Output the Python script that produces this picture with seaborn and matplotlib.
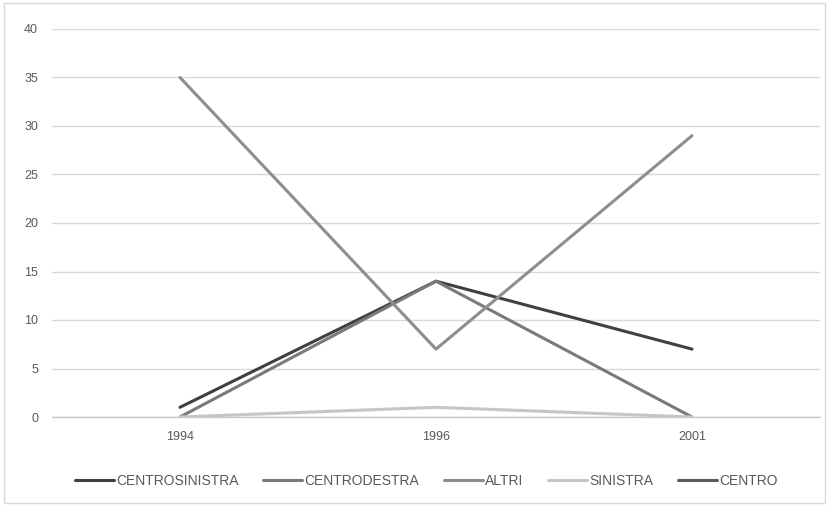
import numpy as np
import matplotlib
matplotlib.use("Agg")
import matplotlib.pyplot as plt
import seaborn as sns
from matplotlib.patches import Rectangle

# Election years on the category axis
years = ["1994", "1996", "2001"]

# Seats per coalition
centrosinistra = [1, 14, 7]
centrodestra = [0, 14, 0]
altri = [35, 7, 29]
sinistra = [0, 1, 0]
centro = [np.nan, np.nan, np.nan]

series_names = ["CENTROSINISTRA", "CENTRODESTRA", "ALTRI", "SINISTRA", "CENTRO"]
series_values = [centrosinistra, centrodestra, altri, sinistra, centro]
series_colors = ["#404040", "#7a7a7a", "#8e8e8e", "#c6c6c6", "#5a5a5a"]

y_ticks = [0, 5, 10, 15, 20, 25, 30, 35, 40]

sns.set_style("white")
plt.rcParams["font.family"] = ["Liberation Sans Narrow", "Liberation Sans", "DejaVu Sans"]

fig = plt.figure(figsize=(8.28, 5.05), dpi=100)
ax = fig.add_axes([52 / 828, 1 - 417 / 505, (820 - 52) / 828, (417 - 29) / 505])

for name, vals, col in zip(series_names, series_values, series_colors):
    if np.all(np.isnan(vals)):
        ax.plot([], [], color=col, lw=2.2, label=name)
        continue
    sns.lineplot(x=years, y=vals, ax=ax, color=col, lw=2.2, label=name,
                 sort=False, solid_capstyle="round")

ax.set_xlim(-0.5, 2.5)
ax.set_ylim(0, 40)
ax.set_yticks(y_ticks)
ax.set_yticklabels([str(t) for t in y_ticks])
ax.yaxis.grid(True, color="#d9d9d9", lw=1)
ax.set_axisbelow(True)
for side in ["left", "right", "top"]:
    ax.spines[side].set_visible(False)
ax.spines["bottom"].set_color("#c8c8c8")
ax.spines["bottom"].set_linewidth(1)
ax.tick_params(axis="both", length=0, labelsize=9, colors="#595959", pad=10)
ax.set_xlabel("")
ax.set_ylabel("")

ax.legend(loc="center", bbox_to_anchor=(0.515, 1 - 481 / 505), bbox_transform=fig.transFigure,
          ncol=5, frameon=False, fontsize=10, labelcolor="#595959",
          handlelength=2.8, handletextpad=0.15, columnspacing=1.8)

# Outer chart frame
fig.patches.append(Rectangle((4 / 828, 2 / 505), 821 / 828, 500 / 505, transform=fig.transFigure,
                             fill=False, edgecolor="#d9d9d9", lw=1))

fig.savefig("out.png", dpi=100)
